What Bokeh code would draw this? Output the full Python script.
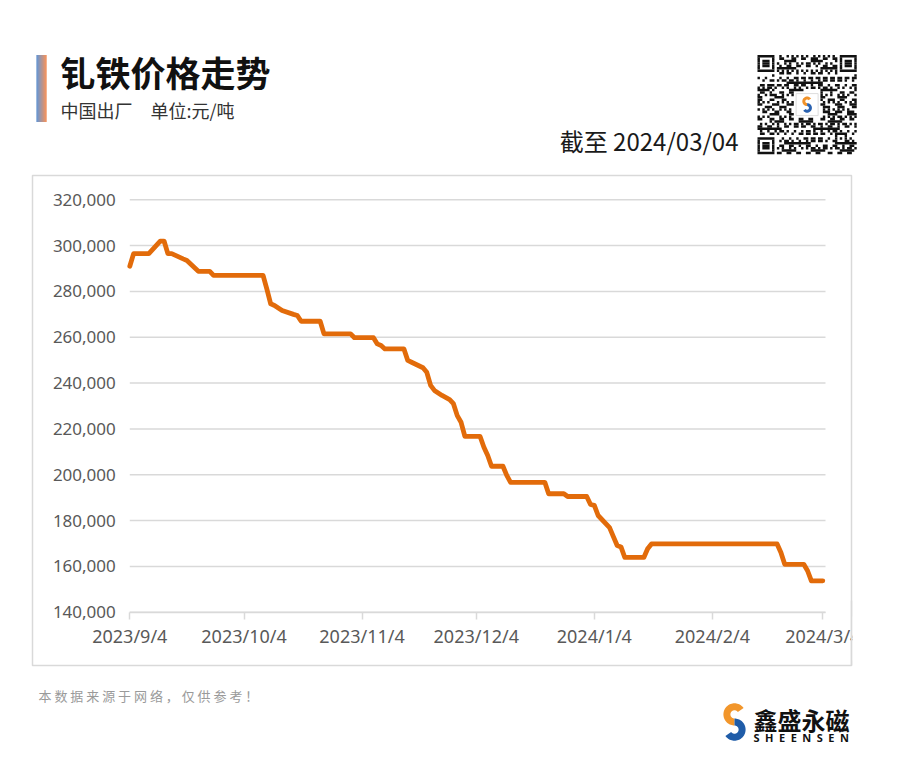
import numpy as np
import pandas as pd
from bokeh.plotting import figure
from bokeh.models import Range1d, FixedTicker, NumeralTickFormatter, ColumnDataSource
from bokeh.core.properties import value
from bokeh.embed import file_html
from bokeh.resources import INLINE

# ---------------- data ----------------
DATES = ["2023-09-04", "2023-09-05", "2023-09-09", "2023-09-12", "2023-09-13", "2023-09-14",
         "2023-09-15", "2023-09-18", "2023-09-19", "2023-09-22", "2023-09-25", "2023-09-26",
         "2023-10-09", "2023-10-10", "2023-10-11", "2023-10-12", "2023-10-14", "2023-10-17",
         "2023-10-18", "2023-10-19", "2023-10-24", "2023-10-25", "2023-11-01", "2023-11-02",
         "2023-11-07", "2023-11-08", "2023-11-09", "2023-11-10", "2023-11-15", "2023-11-16",
         "2023-11-17", "2023-11-20", "2023-11-21", "2023-11-22", "2023-11-23", "2023-11-25",
         "2023-11-27", "2023-11-28", "2023-11-29", "2023-11-30", "2023-12-01", "2023-12-05",
         "2023-12-06", "2023-12-07", "2023-12-08", "2023-12-11", "2023-12-12", "2023-12-13",
         "2023-12-22", "2023-12-23", "2023-12-27", "2023-12-28", "2024-01-02", "2024-01-03",
         "2024-01-04", "2024-01-05", "2024-01-08", "2024-01-09", "2024-01-10", "2024-01-11",
         "2024-01-12", "2024-01-17", "2024-01-18", "2024-01-19", "2024-02-21", "2024-02-22",
         "2024-02-23", "2024-02-28", "2024-02-29", "2024-03-01", "2024-03-04"]
PRICES = [291000, 296500, 296500, 302000, 302000, 296500,
          296500, 294200, 293500, 288800, 288800, 287000,
          287000, 281000, 274600, 273900, 271700, 270000,
          269500, 267000, 267000, 261500, 261500, 259800,
          259800, 257100, 256400, 254900, 254900, 249900,
          249100, 246700, 244700, 239000, 236800, 234600,
          232800, 231000, 225800, 222900, 216700, 216700,
          212000, 208400, 203700, 203700, 199700, 196700,
          196700, 191700, 191700, 190500, 190500, 187000,
          186600, 182200, 176900, 173000, 169100, 168500,
          163900, 163900, 167700, 169800, 169800, 166100,
          160900, 160900, 158100, 153700, 153700]

TICK_DATES = ["2023-09-04", "2023-10-04", "2023-11-04", "2023-12-04",
              "2024-01-04", "2024-02-04", "2024-03-04"]
TICK_LABELS = ["2023/9/4", "2023/10/4", "2023/11/4", "2023/12/4",
               "2024/1/4", "2024/2/4", "2024/3/4"]
Y_TICKS = [140000, 160000, 180000, 200000, 220000, 240000, 260000, 280000, 300000, 320000]
Y_MIN, Y_MAX = 140000, 320000

TITLE = "钆铁价格走势"
SUBTITLE = "中国出厂\u3000单位:元/吨"
ASOF = "截至 2024/03/04"
NOTE = "本 数 据 来 源 于 网 络 ， 仅 供 参 考 ！"
BRAND = "鑫盛永磁"
BRAND_EN = "S\u2002H\u2002E\u2002E\u2002N\u2002S\u2002E\u2002N"

LINE_COLOR = "#E26B0A"
GRID_COLOR = "#D9D9D9"
LABEL_COLOR = "#595959"
CJK = "Noto Sans CJK SC"

# ---------------- layout (canvas pixels) ----------------
W, H = 892, 762
PLOT_L, PLOT_R = 129.3, 825.0      # x pixels of first tick / right end of plot area
PLOT_T, PLOT_B = 199.3, 611.7      # y pixels of Y_MAX / Y_MIN

t0 = pd.Timestamp(TICK_DATES[0])
t_last = pd.Timestamp(TICK_DATES[-1])
DAY_MS = 86400000.0
span_days = (t_last - t0).days
px_per_day = (822.3 - PLOT_L) / span_days
t0_ms = t0.value / 1e6
x_lo = t0_ms - PLOT_L / px_per_day * DAY_MS
x_hi = t0_ms + (W - PLOT_L) / px_per_day * DAY_MS
x_plot_end = t0_ms + (PLOT_R - PLOT_L) / px_per_day * DAY_MS

val_per_px = (Y_MAX - Y_MIN) / (PLOT_B - PLOT_T)
y_hi = Y_MAX + PLOT_T * val_per_px
y_lo = Y_MIN - (H - PLOT_B) * val_per_px

p = figure(x_axis_type="datetime", output_backend="svg", toolbar_location=None,
           frame_width=W, frame_height=H, min_border=0,
           x_range=Range1d(x_lo, x_hi), y_range=Range1d(y_lo, y_hi))
p.background_fill_color = "white"
p.border_fill_color = "white"
p.outline_line_color = None
p.grid.visible = False
p.extra_x_ranges = {"px": Range1d(0, W)}
p.extra_y_ranges = {"px": Range1d(H, 0)}

tick_ms = [pd.Timestamp(d).value / 1e6 for d in TICK_DATES]
xa = p.xaxis[0]
xa.fixed_location = Y_MIN
xa.bounds = (t0_ms, x_plot_end)
xa.ticker = FixedTicker(ticks=tick_ms)
xa.major_label_overrides = {t: lab for t, lab in zip(tick_ms, TICK_LABELS)}
xa.axis_line_color = GRID_COLOR
xa.axis_line_width = 1.5
xa.major_tick_line_color = GRID_COLOR
xa.major_tick_line_width = 1.5
xa.major_tick_out = 7
xa.major_tick_in = 0
xa.minor_tick_line_color = None
xa.major_label_standoff = 5
xa.major_label_text_font = "Noto Sans"
xa.major_label_text_font_size = "18px"
xa.major_label_text_color = LABEL_COLOR

ya = p.yaxis[0]
ya.fixed_location = t0_ms
ya.ticker = FixedTicker(ticks=Y_TICKS)
ya.formatter = NumeralTickFormatter(format="0,0")
ya.axis_line_color = None
ya.major_tick_line_color = None
ya.minor_tick_line_color = None
ya.major_tick_out = 0
ya.major_tick_in = 0
ya.major_label_standoff = 14
ya.major_label_text_font = "Noto Sans"
ya.major_label_text_font_size = "17px"
ya.major_label_text_color = LABEL_COLOR

PX = dict(x_range_name="px", y_range_name="px")

# chart box
p.quad(left=[32], right=[851], top=[175], bottom=[665], fill_color=None,
       line_color=GRID_COLOR, line_width=1.5, **PX)

# horizontal gridlines across the plot area
p.segment(x0=[t0_ms] * len(Y_TICKS), x1=[x_plot_end] * len(Y_TICKS), y0=Y_TICKS, y1=Y_TICKS,
          line_color=GRID_COLOR, line_width=1.5)

# data line
src = ColumnDataSource(dict(date=pd.to_datetime(DATES), price=PRICES))
p.line(x="date", y="price", source=src, line_color=LINE_COLOR, line_width=4.8,
       line_join="round", line_cap="round")

# mask for the part of the last date label that falls outside the chart box
m = p.quad(left=[851.8], right=[W], top=[616], bottom=[660], fill_color="white",
           line_color=None, **PX)
m.level = "overlay"
b = p.segment(x0=[851], x1=[851], y0=[600], y1=[665], line_color=GRID_COLOR,
              line_width=1.5, **PX)
b.level = "overlay"

# ---------------- header ----------------
n_strip = 10
c0 = np.array([0x3B, 0x78, 0xC4])
c1 = np.array([0xEC, 0x74, 0x32])
bar_cols = []
for i in range(n_strip):
    t = i / (n_strip - 1)
    c = (c0 * (1 - t) + c1 * t).astype(int)
    bar_cols.append("#%02x%02x%02x" % tuple(c))
bar_l = [36.0 + i for i in range(n_strip)]
p.quad(left=bar_l, right=[v + 1.05 for v in bar_l], top=[54.5] * n_strip,
       bottom=[121.5] * n_strip, fill_color=bar_cols, line_color=None, **PX)


def txt(X, Y, s, size, color="#1a1a1a", bold=False, align="left", font=CJK):
    p.text(x=[X], y=[Y], text=[s], text_font=value(font), text_font_size=size,
           text_color=color, text_font_style="bold" if bold else "normal",
           text_align=align, text_baseline="middle", **PX)


txt(60, 71, TITLE, "35px", color="#111111", bold=True)
txt(60, 109, SUBTITLE, "18px", color="#333333")
txt(738, 140, ASOF, "24px", color="#1a1a1a", align="right")

# QR-like code
N = 41
QX0, QY0, MOD = 757.0, 54.5, 2.42
grid = np.zeros((N, N), dtype=bool)
reserved = np.zeros((N, N), dtype=bool)


def finder(r0, c0_):
    for r in range(7):
        for c in range(7):
            grid[r0 + r, c0_ + c] = (r in (0, 6) or c in (0, 6) or (2 <= r <= 4 and 2 <= c <= 4))


for (r0, cc) in [(0, 0), (0, N - 7), (N - 7, 0)]:
    finder(r0, cc)
    reserved[max(r0 - 1, 0):min(r0 + 8, N), max(cc - 1, 0):min(cc + 8, N)] = True
for r in range(32, 37):
    for c in range(32, 37):
        grid[r, c] = (r in (32, 36) or c in (32, 36) or (r == 34 and c == 34))
        reserved[r, c] = True
for i in range(8, N - 8):
    grid[6, i] = (i % 2 == 0)
    grid[i, 6] = (i % 2 == 0)
    reserved[6, i] = True
    reserved[i, 6] = True
for r in range(N):
    for c in range(N):
        if reserved[r, c] or (15 <= r <= 25 and 15 <= c <= 25):
            continue
        h = (r * 1103 + c * 917 + r * c * 31 + (r * r) * 7) % 97
        grid[r, c] = h < 46

ql, qr, qt, qb = [], [], [], []
for r in range(N):
    c = 0
    while c < N:
        if grid[r, c]:
            cs = c
            while c < N and grid[r, c]:
                c += 1
            ql.append(QX0 + cs * MOD)
            qr.append(QX0 + c * MOD)
            qt.append(QY0 + r * MOD - 0.05)
            qb.append(QY0 + (r + 1) * MOD + 0.05)
        else:
            c += 1
p.quad(left=ql, right=qr, top=qt, bottom=qb, fill_color="#111111", line_color=None, **PX)


def s_logo(cx, cy, rc, t, top_color, bot_color, n=48):
    ro, ri = rc + t / 2, rc - t / 2
    ucy, lcy = cy - rc, cy + rc
    a_up = np.radians(np.linspace(35, 270, n))
    xs1 = list(cx + ro * np.cos(a_up)) + list(cx + ri * np.cos(a_up[::-1]))
    ys1 = list(ucy - ro * np.sin(a_up)) + list(ucy - ri * np.sin(a_up[::-1]))
    a_lo = np.radians(np.linspace(90, -145, n))
    xs2 = list(cx + ro * np.cos(a_lo)) + list(cx + ri * np.cos(a_lo[::-1]))
    ys2 = list(lcy - ro * np.sin(a_lo)) + list(lcy - ri * np.sin(a_lo[::-1]))
    p.patches(xs=[xs1, xs2], ys=[ys1, ys2], fill_color=[top_color, bot_color],
              line_color=None, **PX)


QC_X = QX0 + N * MOD / 2
QC_Y = QY0 + N * MOD / 2
p.quad(left=[QC_X - 11], right=[QC_X + 11], top=[QC_Y - 11], bottom=[QC_Y + 11],
       fill_color="white", line_color="#dddddd", line_width=1, **PX)
s_logo(QC_X, QC_Y, 3.3, 3.0, "#F0922A", "#2A62B0")

# ---------------- footer ----------------
txt(38, 695, NOTE, "13px", color="#9a9a9a")
s_logo(734, 721.5, 7.6, 7.0, "#F2962B", "#1F5CA8")
txt(753, 718.5, BRAND, "24px", color="#111111", bold=True)
txt(753, 737, BRAND_EN, "11px", color="#111111", bold=True, font="Noto Sans")

open("out.html", "w").write(file_html(p, INLINE))
